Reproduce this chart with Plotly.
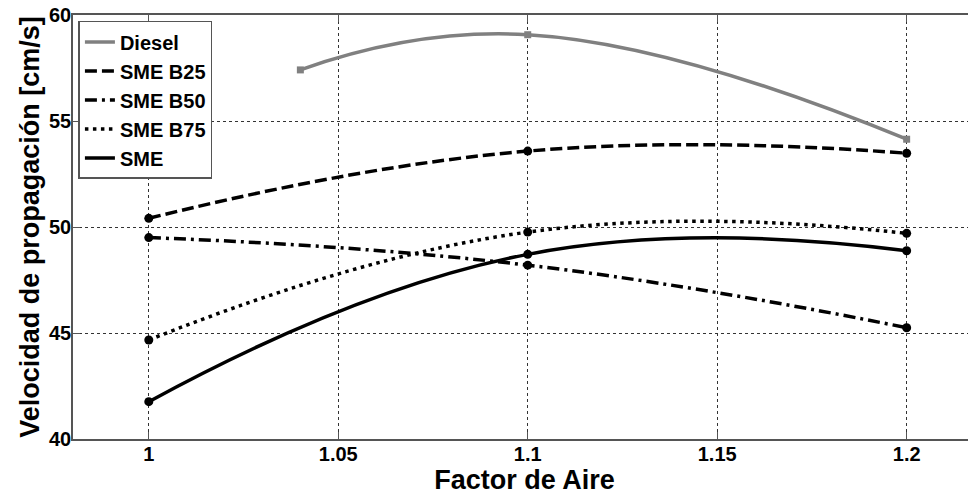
import plotly.graph_objects as go

# Factor de Aire (x) and flame propagation speed [cm/s]
x_diesel = [1.04, 1.1, 1.2]
diesel = [57.41, 59.07, 54.14]

x_fa = [1.0, 1.1, 1.2]
sme_b25 = [50.41, 53.58, 53.48]
sme_b50 = [49.50, 48.20, 45.25]
sme_b75 = [44.67, 49.76, 49.70]
sme = [41.76, 48.71, 48.88]

x_ticks = [1, 1.05, 1.1, 1.15, 1.2]
x_tick_text = ["1", "1.05", "1.1", "1.15", "1.2"]
y_ticks = [40, 45, 50, 55, 60]

FONT = "Liberation Sans, Arial, sans-serif"

series = [
    ("Diesel", x_diesel, diesel, "#808080", "solid", "square", 7),
    ("SME B25", x_fa, sme_b25, "black", "12px,5px", "circle", 9),
    ("SME B50", x_fa, sme_b50, "black", "12px,5px,3px,5px", "circle", 9),
    ("SME B75", x_fa, sme_b75, "black", "3.5px,4.5px", "circle", 9),
    ("SME", x_fa, sme, "black", "solid", "circle", 9),
]

fig = go.Figure()
for name, xs, ys, color, dash, sym, msize in series:
    # line (shown in legend)
    fig.add_trace(go.Scatter(
        x=xs, y=ys, name=name, mode="lines",
        line=dict(color=color, width=3.5, dash=dash, shape="spline", smoothing=1.3),
    ))
    # markers (hidden from legend)
    fig.add_trace(go.Scatter(
        x=xs, y=ys, mode="markers", showlegend=False, hoverinfo="skip",
        marker=dict(color=color, size=msize, symbol=sym),
    ))

# page body adds an 8px offset, so the figure is a bit smaller than the window
fig.update_layout(
    width=968, height=488,
    margin=dict(l=65, r=0, t=7, b=57),
    paper_bgcolor="white", plot_bgcolor="white",
    font=dict(family=FONT, color="black"),
    legend=dict(
        x=0.006, y=0.986, xanchor="left", yanchor="top",
        bgcolor="white", bordercolor="#555", borderwidth=1.5,
        font=dict(size=20, family=FONT, weight="bold"),
        tracegroupgap=0, itemwidth=30,
    ),
)

fig.update_xaxes(
    range=[0.98, 1.2183], automargin=False,
    tickvals=x_ticks, ticktext=x_tick_text,
    tickfont=dict(size=20, weight="bold"), ticklabelstandoff=-4,
    ticklabeloverflow="allow",
    ticks="inside", ticklen=7, tickcolor="#555", tickwidth=1.2,
    showline=True, linecolor="#555", linewidth=1.5, mirror="allticks",
    showgrid=True, gridcolor="#333", gridwidth=1, griddash="dot",
    zeroline=False,
    title=dict(text="Factor de Aire", font=dict(size=27, weight="bold"), standoff=2),
)
fig.update_yaxes(
    range=[40, 60], automargin=False,
    tickvals=y_ticks,
    tickfont=dict(size=20, weight="bold"), ticklabelstandoff=-4,
    ticklabeloverflow="allow",
    ticks="inside", ticklen=7, tickcolor="#555", tickwidth=1.2,
    showline=True, linecolor="#555", linewidth=1.5, mirror=False,
    showgrid=True, gridcolor="#333", gridwidth=1, griddash="dot",
    zeroline=False,
    title=dict(text="Velocidad de propagación [cm/s]", font=dict(size=27, weight="bold"), standoff=2),
)

fig.write_html("out.html")
